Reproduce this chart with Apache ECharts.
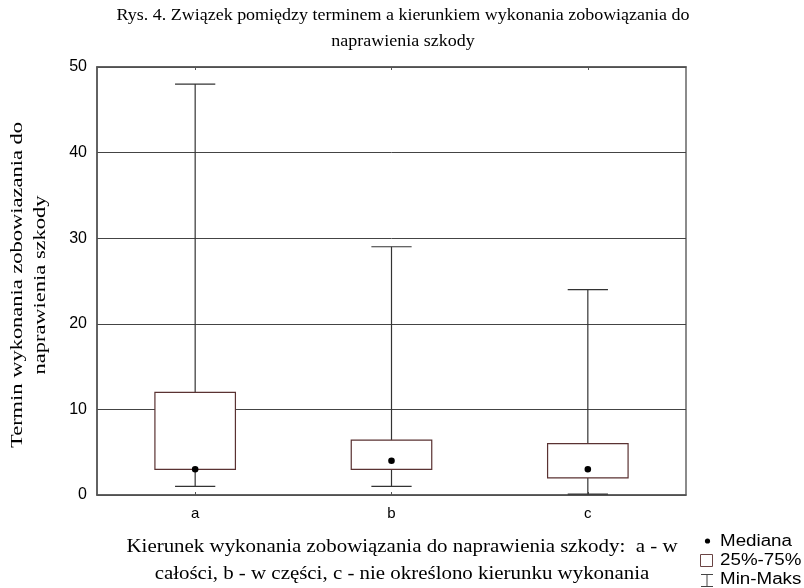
<!DOCTYPE html>
<html>
<head>
<meta charset="utf-8">
<script src="https://cdn.jsdelivr.net/npm/echarts@6/dist/echarts.min.js"></script>
<style>html,body{margin:0;padding:0;background:#fff;}#c{width:804px;height:588px;}</style>
</head>
<body>
<div id="c"></div>
<script>
const categories = ['a', 'b', 'c'];
const minVals = [1, 1, 0.1];
const q1Vals = [3, 3, 2];
const medianVals = [3, 4, 3];
const q3Vals = [12, 6.4, 6];
const maxVals = [48, 29, 24];
const yTicks = [0, 10, 20, 30, 40, 50];

const titleLines = ['Rys. 4. Związek pomiędzy terminem a kierunkiem wykonania zobowiązania do', 'naprawienia szkody'];
const yNameLines = ['Termin wykonania zobowiazania do', 'naprawienia szkody'];
const xNameLines = ['Kierunek wykonania zobowiązania do naprawienia szkody:  a - w', 'całości, b - w części, c - nie określono kierunku wykonania'];
const legendLabels = ['Mediana', '25%-75%', 'Min-Maks'];

const boxData = categories.map((c, i) => [i, minVals[i], q1Vals[i], medianVals[i], q3Vals[i], maxVals[i]]);

const serif = '"Liberation Serif", "Times New Roman", serif';
const sans = '"Liberation Sans", Arial, sans-serif';

const mctx = document.createElement('canvas').getContext('2d');
function stretch(text, font, target) {
  mctx.font = font;
  return target / mctx.measureText(text).width;
}

const titleFont = '17px ' + serif;
const titleScale = stretch(titleLines[0], titleFont, 573);
const xNameFont = '18px ' + serif;
const xNameScale = stretch(xNameLines[0], xNameFont, 551);
const yNameFont = '17px ' + serif;
const yNameScale = stretch(yNameLines[0], yNameFont, 326);
const legFont = '16px ' + sans;
const legScale = stretch(legendLabels[0], legFont, 72);

const chart = echarts.init(document.getElementById('c'), null, {renderer: 'canvas'});

chart.setOption({
  backgroundColor: '#fff',
  animation: false,
  grid: {left: 97, top: 67, right: 118, bottom: 93, show: true, borderColor: '#666', borderWidth: 1.5, backgroundColor: 'transparent'},
  xAxis: [{
    type: 'category', data: categories, boundaryGap: true,
    axisLine: {show: true, lineStyle: {color: '#555', width: 1.5}},
    axisTick: {show: true, inside: true, alignWithLabel: true, length: 3, lineStyle: {color: '#555'}},
    axisLabel: {fontFamily: sans, fontSize: 15, color: '#000', margin: 11},
    splitLine: {show: false}
  }, {
    type: 'category', data: categories, boundaryGap: true, position: 'top',
    axisLine: {show: true, lineStyle: {color: '#555', width: 1.5}},
    axisTick: {show: true, inside: true, alignWithLabel: true, length: 3, lineStyle: {color: '#555'}},
    axisLabel: {show: false},
    splitLine: {show: false}
  }],
  yAxis: {
    type: 'value', min: yTicks[0], max: yTicks[yTicks.length - 1], interval: 10,
    axisLine: {show: true, lineStyle: {color: '#555', width: 1.5}},
    axisTick: {show: false},
    axisLabel: {fontFamily: sans, fontSize: 16, color: '#000', margin: 10},
    splitLine: {show: true, lineStyle: {color: '#444', width: 1}}
  },
  series: [{
    type: 'custom',
    data: boxData,
    xAxisIndex: 0,
    encode: {x: 0, y: [1, 2, 3, 4, 5]},
    renderItem: function (params, api) {
      const x = api.value(0);
      const pMin = api.coord([x, api.value(1)]);
      const pQ1 = api.coord([x, api.value(2)]);
      const pMed = api.coord([x, api.value(3)]);
      const pQ3 = api.coord([x, api.value(4)]);
      const pMax = api.coord([x, api.value(5)]);
      const band = api.size([1, 0])[0];
      const bw = band * 0.41;
      const cw = band * 0.205;
      const cx = pMin[0];
      const wStyle = {stroke: '#333', lineWidth: 1.2};
      return {
        type: 'group',
        children: [
          {type: 'line', shape: {x1: cx, y1: pQ3[1], x2: cx, y2: pMax[1]}, style: wStyle},
          {type: 'line', shape: {x1: cx, y1: pMin[1], x2: cx, y2: pQ1[1]}, style: wStyle},
          {type: 'line', shape: {x1: cx - cw / 2, y1: pMax[1], x2: cx + cw / 2, y2: pMax[1]}, style: wStyle},
          {type: 'line', shape: {x1: cx - cw / 2, y1: pMin[1], x2: cx + cw / 2, y2: pMin[1]}, style: wStyle},
          {type: 'rect', shape: {x: cx - bw / 2, y: pQ3[1], width: bw, height: pQ1[1] - pQ3[1]}, style: {fill: '#fff', stroke: '#5a3232', lineWidth: 1.2}},
          {type: 'circle', shape: {cx: cx, cy: pMed[1], r: 3.3}, style: {fill: '#000'}}
        ]
      };
    }
  }],
  graphic: [
    {type: 'text', x: 403, y: 16, scaleX: titleScale, style: {text: titleLines[0], font: titleFont, fill: '#000', align: 'center', verticalAlign: 'middle'}},
    {type: 'text', x: 403, y: 42, scaleX: titleScale, style: {text: titleLines[1], font: titleFont, fill: '#000', align: 'center', verticalAlign: 'middle'}},
    {type: 'text', x: 18, y: 285, rotation: Math.PI / 2, scaleX: yNameScale, style: {text: yNameLines[0], font: yNameFont, fill: '#000', align: 'center', verticalAlign: 'middle'}},
    {type: 'text', x: 41, y: 285, rotation: Math.PI / 2, scaleX: yNameScale, style: {text: yNameLines[1], font: yNameFont, fill: '#000', align: 'center', verticalAlign: 'middle'}},
    {type: 'text', x: 402, y: 547, scaleX: xNameScale, style: {text: xNameLines[0], font: xNameFont, fill: '#000', align: 'center', verticalAlign: 'middle'}},
    {type: 'text', x: 402, y: 574, scaleX: xNameScale, style: {text: xNameLines[1], font: xNameFont, fill: '#000', align: 'center', verticalAlign: 'middle'}},
    {type: 'circle', shape: {cx: 707.5, cy: 541, r: 2.6}, style: {fill: '#000'}},
    {type: 'text', x: 720, y: 541.5, scaleX: legScale, style: {text: legendLabels[0], font: legFont, fill: '#000', verticalAlign: 'middle'}},
    {type: 'rect', shape: {x: 700.5, y: 554.5, width: 12, height: 12}, style: {fill: '#fff', stroke: '#6a4444', lineWidth: 1}},
    {type: 'text', x: 720, y: 560.5, scaleX: legScale, style: {text: legendLabels[1], font: legFont, fill: '#000', verticalAlign: 'middle'}},
    {type: 'line', shape: {x1: 701, y1: 574.5, x2: 713, y2: 574.5}, style: {stroke: '#444', lineWidth: 1}},
    {type: 'line', shape: {x1: 707, y1: 574.5, x2: 707, y2: 586.5}, style: {stroke: '#444', lineWidth: 1}},
    {type: 'line', shape: {x1: 701, y1: 586.5, x2: 713, y2: 586.5}, style: {stroke: '#444', lineWidth: 1}},
    {type: 'text', x: 720, y: 580, scaleX: legScale, style: {text: legendLabels[2], font: legFont, fill: '#000', verticalAlign: 'middle'}}
  ]
});
</script>
</body>
</html>
